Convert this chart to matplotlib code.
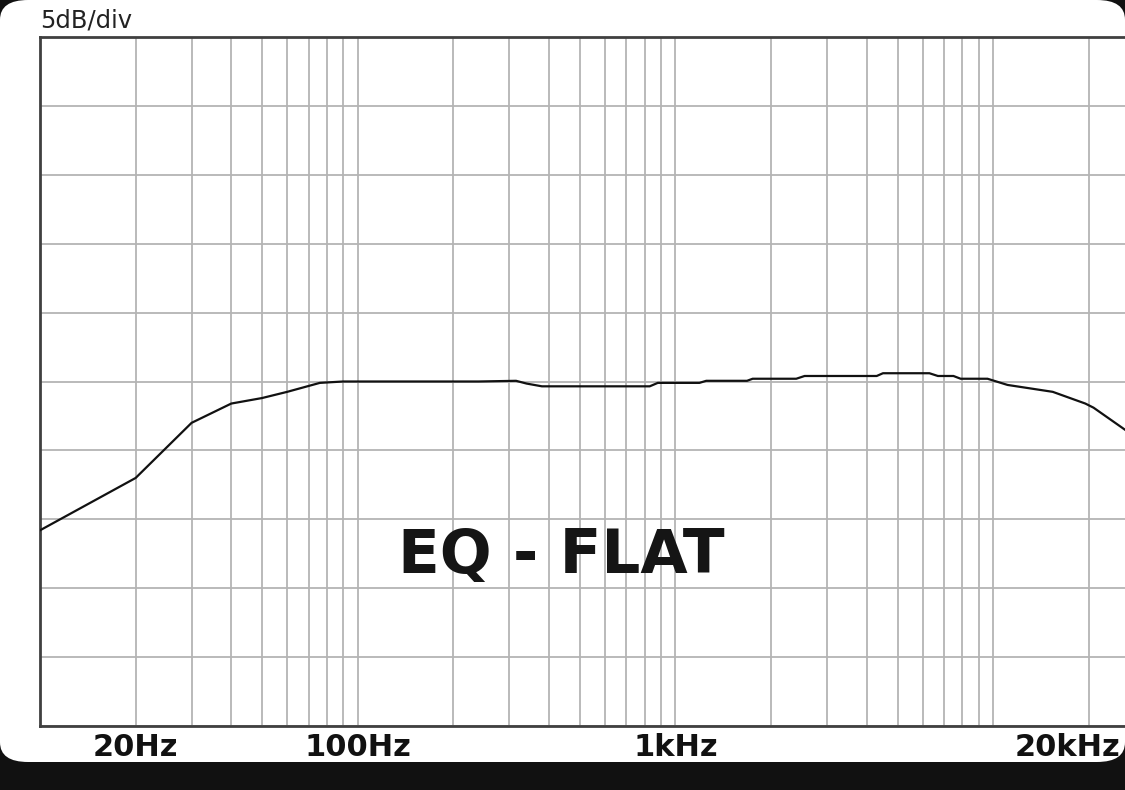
import matplotlib
matplotlib.use("Agg")
import matplotlib.pyplot as plt
import matplotlib.transforms as mtransforms
from matplotlib.patches import FancyBboxPatch
import numpy as np

# Frequency response data
freq_hz = [10, 20, 30, 40, 50, 60, 76, 90, 240, 315, 340, 380, 830, 880, 1190,
           1250, 1680, 1750, 2400, 2550, 4300, 4500, 6300, 6700, 7500, 7900,
           9600, 11100, 15400, 19500, 20700, 26000]
level_db = [-10.8, -7.0, -3.0, -1.6, -1.2, -0.75, -0.1, 0.0, 0.0, 0.05, -0.15,
            -0.35, -0.35, -0.1, -0.1, 0.05, 0.05, 0.2, 0.2, 0.4, 0.4, 0.6, 0.6,
            0.4, 0.4, 0.2, 0.2, -0.25, -0.75, -1.6, -1.9, -3.5]

tick_freqs = [20, 100, 1000, 20000]
tick_labels = ["20Hz", "100Hz", "1kHz", "20kHz"]
y_scale_label = "5dB/div"
annotation = "EQ - FLAT"

W, H = 1125, 790
fig = plt.figure(figsize=(W / 100, H / 100), dpi=100)
fig.patch.set_facecolor("#111111")

# white rounded panel
panel = FancyBboxPatch((0, 1 - 762 / H), 1.0, 762 / H,
                       boxstyle="round,pad=0,rounding_size=0.025",
                       transform=fig.transFigure, facecolor="white",
                       edgecolor="none", zorder=-10)
fig.patches.append(panel)

ax = fig.add_axes([40 / W, 1 - 726 / H, 1 - 40 / W, (726 - 37) / H])
ax.set_zorder(1)
ax.set_facecolor("white")
ax.set_xscale("log")
ax.set_xlim(10, 26000)
ax.set_ylim(-25, 25)

minor = [m * 10 ** d for d in range(1, 5) for m in range(1, 10)
         if 10 < m * 10 ** d < 26000 and m * 10 ** d not in tick_freqs]
ax.set_xticks(tick_freqs)
ax.set_xticklabels(tick_labels)
ax.set_xticks(minor, minor=True)
ax.set_xticklabels([], minor=True)
ax.set_yticks(np.arange(-25, 26, 5))
ax.set_yticklabels([])
ax.tick_params(axis="both", which="both", length=0)
ax.tick_params(axis="x", pad=5, labelsize=22)
for lbl in ax.get_xticklabels():
    lbl.set_fontweight("bold")
    lbl.set_color("#111111")
last = ax.get_xticklabels()[-1]
last.set_horizontalalignment("right")
last.set_transform(last.get_transform() +
                   mtransforms.ScaledTranslation(32 / 100, 0, fig.dpi_scale_trans))

ax.grid(True, which="both", axis="x", color="#b4b4b4", linewidth=1.3)
ax.grid(True, which="major", axis="y", color="#b4b4b4", linewidth=1.3)
ax.set_axisbelow(True)

for side in ["left", "top", "bottom"]:
    ax.spines[side].set_color("#404040")
    ax.spines[side].set_linewidth(2)
ax.spines["right"].set_visible(False)

ax.plot(freq_hz, level_db, color="#111111", linewidth=1.6, zorder=3)

ax.text(436, -12.7, annotation, ha="center", va="center", fontsize=44,
        fontweight="bold", color="#151515", zorder=4)

fig.text(40 / W, 1 - 28 / H, y_scale_label, ha="left", va="baseline",
         fontsize=17.5, color="#222222")

fig.savefig("out.png", dpi=100, facecolor=fig.get_facecolor())
